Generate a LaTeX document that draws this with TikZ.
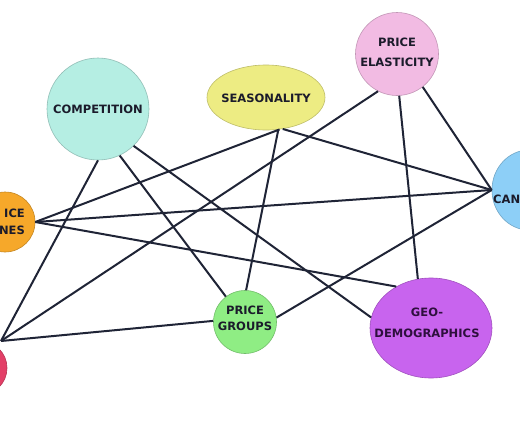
\documentclass[tikz,border=0pt]{standalone}
\usepackage{fontspec}
\setmainfont{DejaVu Sans}
\usetikzlibrary{shapes.geometric}
\definecolor{compc}{HTML}{B5EEE3}
\definecolor{seasc}{HTML}{EDEC83}
\definecolor{elasc}{HTML}{F2BBE3}
\definecolor{camc}{HTML}{8DCFF7}
\definecolor{linesc}{HTML}{F6A82A}
\definecolor{redc}{HTML}{E33F67}
\definecolor{groupc}{HTML}{8FED84}
\definecolor{geoc}{HTML}{C864EE}
\definecolor{linkc}{HTML}{1F2436}
\definecolor{txtc}{HTML}{1B1B2B}
\definecolor{geotxt}{HTML}{2E0F3E}
\begin{document}
\begin{tikzpicture}[x=1pt,y=-1pt,
  bubble/.style={circle, inner sep=0pt, line width=0.6pt},
  oval/.style={ellipse, inner sep=0pt, line width=0.6pt},
  lbl/.style={font=\fontsize{11.5}{19}\selectfont\bfseries, text=txtc, align=center, inner sep=0pt},
  link/.style={draw=linkc, line width=2pt}]
\useasboundingbox (0,0) rectangle (520,434);
\clip (0,0) rectangle (520,434);
\fill[white] (0,0) rectangle (520,434);
% shapes
\node[bubble, minimum size=102pt, fill=compc, draw=compc!80!black] (comp) at (98,109) {};
\node[oval, minimum width=118pt, minimum height=65pt, fill=seasc, draw=seasc!80!black] (seas) at (266,97.5) {};
\node[bubble, minimum size=83pt, fill=elasc, draw=elasc!80!black] (elas) at (397,54) {};
\node[oval, minimum width=74pt, minimum height=80pt, fill=camc, draw=camc!80!black] (cam) at (529,190) {};
\node[bubble, minimum size=60pt, fill=linesc, draw=linesc!80!black] (plines) at (5,222) {};
\node[bubble, minimum size=54pt, fill=redc, draw=redc!80!black] (red) at (-20,368) {};
\node[bubble, minimum size=63pt, fill=groupc, draw=groupc!80!black] (pgroups) at (245,322) {};
\node[oval, minimum width=122pt, minimum height=100pt, fill=geoc, draw=geoc!80!black] (geo) at (431,328) {};
\coordinate (bl) at (1,341);
% texts
\node[lbl] (tcomp) at (98,109) {COMPETITION};
\node[lbl] (tseas) at (266,98) {SEASONALITY};
\node[lbl, font=\fontsize{11.5}{20}\selectfont\bfseries] (telas) at (397,52) {PRICE\\ELASTICITY};
\node[lbl, anchor=west] (tcam) at (493,199) {CAN};
\node[lbl, align=right, anchor=east, font=\fontsize{11.5}{17}\selectfont\bfseries] (tlines) at (25,222) {ICE\\NES};
\node[lbl, font=\fontsize{11.5}{16.5}\selectfont\bfseries] (tgroups) at (245,318.5) {PRICE\\GROUPS};
\node[lbl, text=geotxt, font=\fontsize{11.5}{21}\selectfont\bfseries] (tgeo) at (427,323) {GEO-\\DEMOGRAPHICS};
% links
\draw[link] (comp.-90) -- (bl);
\draw[link] (comp.-65) -- (pgroups.127);
\draw[link] (comp.-46) -- (geo.170);
\draw[link] (seas.-67) -- (plines.east);
\draw[link] (seas.-69) -- (pgroups.88);
\draw[link] (seas.-62) -- (cam.west);
\draw[link] (elas.-117) -- (bl);
\draw[link] (elas.-87) -- (geo.105);
\draw[link] (elas.-52) -- (cam.west);
\draw[link] (plines.east) -- (cam.west);
\draw[link] (plines.east) -- (geo.130);
\draw[link] (pgroups.8) -- (cam.west);
\draw[link] (pgroups.178) -- (bl);
\end{tikzpicture}
\end{document}
